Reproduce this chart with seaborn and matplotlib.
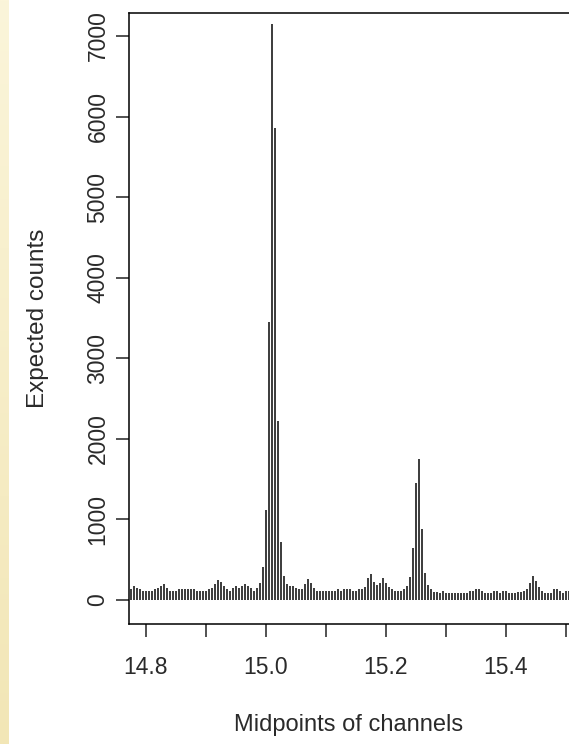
import numpy as np
import pandas as pd
import matplotlib
matplotlib.use("Agg")
import matplotlib.pyplot as plt
import seaborn as sns
from matplotlib.colors import LinearSegmentedColormap

# channel grid (first midpoint, channel width) and expected counts per channel
first_mid = 14.775
chan_width = 0.005
counts = [
    132, 174, 153, 132, 116, 116, 116, 116, 132, 153,
    174, 194, 153, 116, 116, 116, 132, 132, 132, 132,
    132, 132, 116, 116, 116, 116, 132, 153, 194, 248,
    227, 174, 132, 116, 153, 174, 153, 174, 194, 174,
    153, 116, 153, 207, 414, 1117, 3450, 7143, 5856, 2221,
    724, 302, 199, 174, 174, 153, 132, 132, 199, 261,
    211, 153, 116, 116, 116, 116, 116, 116, 116, 132,
    116, 132, 132, 132, 116, 116, 132, 132, 165, 269,
    323, 227, 186, 207, 269, 207, 157, 132, 112, 112,
    112, 132, 174, 281, 641, 1450, 1750, 877, 339, 186,
    132, 103, 103, 91, 116, 91, 91, 91, 91, 91,
    91, 91, 91, 116, 116, 136, 136, 116, 91, 91,
    91, 116, 116, 91, 116, 116, 91, 91, 91, 103,
    103, 116, 132, 207, 302, 236, 165, 116, 91, 91,
    91, 132, 132, 112, 91, 112, 112,
]
midpoints = np.round(first_mid + chan_width * np.arange(len(counts)), 4)

x_ticks = [14.8, 14.9, 15.0, 15.1, 15.2, 15.3, 15.4, 15.5]
x_ticklabels = ["14.8", "", "15.0", "", "15.2", "", "15.4", ""]
y_ticks = [0, 1000, 2000, 3000, 4000, 5000, 6000, 7000]

x_label = "Midpoints of channels"
y_label = "Expected counts"

sns.set_theme(style="white")
plt.rcParams["font.family"] = ["Liberation Sans", "DejaVu Sans"]

W, H = 569, 744
fig = plt.figure(figsize=(W / 100, H / 100), dpi=100)
fig.patch.set_facecolor("white")

# pale yellow strip on the left edge
strip = fig.add_axes([0, 0, 9 / W, 1])
grad = np.linspace(0, 1, 256).reshape(-1, 1)
cmap = LinearSegmentedColormap.from_list("strip", ["#fbf5da", "#f2e6b6"])
strip.imshow(grad, aspect="auto", cmap=cmap, extent=[0, 1, 0, 1], origin="upper")
strip.set_axis_off()

left = 129 / W
bottom = (H - 624) / H
height = (624 - 13) / H
ax = fig.add_axes([left, bottom, 1 - left, height])

df = pd.DataFrame({"mid": midpoints, "count": counts})
sns.barplot(data=df, x="mid", y="count", native_scale=True, width=0.68,
            color="#404040", saturation=1, linewidth=0, ax=ax)

ax.set_xlim(14.7717, 15.505)
ax.set_ylim(-298, 7285)

ax.set_xticks(x_ticks)
ax.set_xticklabels(x_ticklabels)
ax.set_yticks(y_ticks)
ax.set_yticklabels([str(v) for v in y_ticks], rotation=90, va="center")

for s in ["left", "bottom", "top"]:
    ax.spines[s].set_visible(True)
    ax.spines[s].set_color("black")
    ax.spines[s].set_linewidth(1.1)
ax.spines["right"].set_visible(False)

ax.tick_params(axis="both", which="both", direction="out", length=9.5, width=1.1,
               color="#222222", labelsize=16.5, labelcolor="#2a2a2a",
               left=True, bottom=True)
ax.tick_params(axis="x", pad=13.5)
ax.tick_params(axis="y", pad=4.5)
ax.grid(False)

ax.set_xlabel(x_label, fontsize=17, color="#2a2a2a", labelpad=25)
ax.set_ylabel(y_label, fontsize=17.5, color="#2a2a2a", labelpad=27)

fig.savefig("out.png", dpi=100)
